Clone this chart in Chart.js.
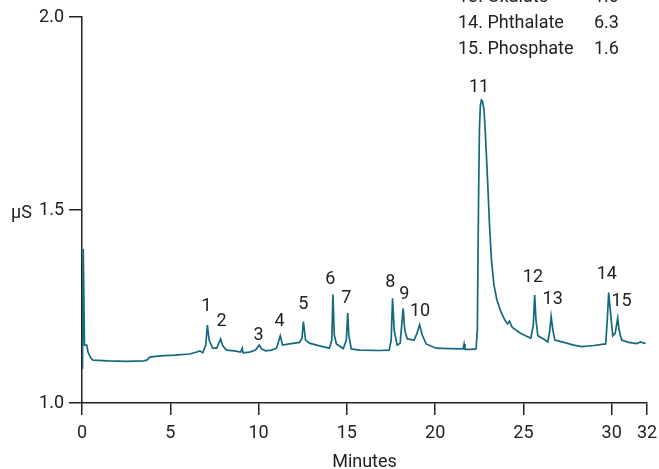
<!DOCTYPE html>
<html>
<head>
<meta charset="utf-8">
<script src="https://cdn.jsdelivr.net/npm/chart.js@4/dist/chart.umd.min.js"></script>
<style>
  html, body { margin: 0; padding: 0; background: #fff; }
  canvas { display: block; }
</style>
</head>
<body>
<canvas id="chromChart" width="659" height="469"></canvas>
<script>
// Chromatogram trace (minutes, µS)
const traceTimes = [
    0.00, 0.03, 0.07, 0.14, 0.27, 0.34, 0.49, 0.62, 1.50, 2.50, 3.50, 3.67, 3.84, 4.41, 5.25, 6.10,
    6.50, 6.67, 6.84, 7.01, 7.10, 7.20, 7.40, 7.63, 7.85, 7.97, 8.19, 8.64, 8.98, 9.08, 9.12, 9.49,
    9.83, 10.04, 10.17, 10.40, 10.73, 11.02, 11.23, 11.36, 11.75, 12.32, 12.46, 12.54, 12.66, 12.88,
    13.45, 14.01, 14.15, 14.21, 14.29, 14.41, 14.80, 14.97, 15.05, 15.11, 15.25, 15.71, 16.84, 17.40,
    17.51, 17.59, 17.68, 17.85, 18.02, 18.19, 18.28, 18.42, 18.81, 18.98, 19.12, 19.27, 19.49, 20.06,
    20.79, 21.58, 21.64, 21.69, 22.03, 22.32, 22.39, 22.46, 22.51, 22.56, 22.62, 22.68, 22.77, 22.85,
    22.97, 23.08, 23.19, 23.33, 23.50, 23.73, 23.95, 24.10, 24.21, 24.35, 24.63, 24.86, 25.42, 25.56, 25.64,
    25.71, 25.82, 26.16, 26.38, 26.50, 26.57, 26.67, 26.78, 27.29, 27.85, 28.31, 28.98, 29.66, 29.75,
    29.83, 29.92, 30.06, 30.20, 30.34, 30.42, 30.56, 30.96, 31.41, 31.64, 31.81, 31.92
];
const traceValues = [
    1.091, 1.132, 1.399, 1.150, 1.150, 1.132, 1.117, 1.111, 1.109, 1.108, 1.109, 1.111, 1.119, 1.122, 1.124, 1.127,
    1.132, 1.135, 1.130, 1.150, 1.202, 1.163, 1.142, 1.142, 1.166, 1.148, 1.137, 1.135, 1.132, 1.142, 1.130, 1.132,
    1.137, 1.150, 1.140, 1.135, 1.137, 1.142, 1.174, 1.150, 1.153, 1.157, 1.168, 1.211, 1.163, 1.155,
    1.148, 1.142, 1.163, 1.281, 1.176, 1.153, 1.141, 1.163, 1.233, 1.176, 1.140, 1.137, 1.136, 1.137,
    1.163, 1.271, 1.189, 1.150, 1.155, 1.245, 1.189, 1.166, 1.163, 1.181, 1.203, 1.176, 1.153, 1.142,
    1.141, 1.140, 1.153, 1.139, 1.139, 1.140, 1.189, 1.528, 1.710, 1.769, 1.785, 1.782, 1.759, 1.694,
    1.578, 1.461, 1.370, 1.306, 1.267, 1.236, 1.215, 1.205, 1.212, 1.197, 1.187, 1.180, 1.168, 1.202, 1.280,
    1.215, 1.174, 1.165, 1.158, 1.189, 1.224, 1.189, 1.163, 1.157, 1.150, 1.146, 1.149, 1.153, 1.215,
    1.286, 1.241, 1.174, 1.181, 1.220, 1.189, 1.163, 1.157, 1.154, 1.158, 1.155, 1.155
];

// Peak numbers and where their labels sit (minutes, µS)
const peakNames = ['1', '2', '3', '4', '5', '6', '7', '8', '9', '10', '11', '12', '13', '14', '15'];
const peakLabelTimes = [7.05, 7.91, 10.00, 11.19, 12.54, 14.07, 14.97, 17.46, 18.25, 19.15, 22.49, 25.54, 26.66, 29.72, 30.56];
const peakLabelLevels = [1.249, 1.212, 1.176, 1.212, 1.254, 1.321, 1.272, 1.313, 1.282, 1.238, 1.817, 1.324, 1.269, 1.332, 1.262];

// Visible part of the analyte table (mg/L)
const legendNames = ['13. Oxalate', '14. Phthalate', '15. Phosphate'];
const legendValues = ['1.0', '6.3', '1.6'];

const xTicks = [0, 5, 10, 15, 20, 25, 30, 32];
const yTicks = [1.0, 1.5, 2.0];

const FONT = 'Roboto, "Liberation Sans", sans-serif';
const INK = '#222';
const TRACE = '#14697f';

const tracePoints = traceTimes.map((t, i) => ({ x: t, y: traceValues[i] }));

// Peak numbers, axis unit and the table in the top right corner
const annotations = {
    id: 'annotations',
    afterDatasetsDraw(chart) {
        const ctx = chart.ctx;
        const xs = chart.scales.x;
        const ys = chart.scales.y;
        ctx.save();
        ctx.fillStyle = INK;
        ctx.textAlign = 'center';
        ctx.textBaseline = 'middle';
        ctx.font = '18px ' + FONT;
        peakNames.forEach((name, i) => {
            ctx.fillText(name, xs.getPixelForValue(peakLabelTimes[i]), ys.getPixelForValue(peakLabelLevels[i]));
        });

        ctx.textAlign = 'left';
        ctx.fillText('µS', 11, ys.getPixelForValue(1.5) + 3);

        legendNames.forEach((name, i) => {
            const y = -3 + i * 26;
            ctx.fillText(name, 458, y);
            ctx.fillText(legendValues[i], 594, y);
        });
        ctx.restore();
    }
};

new Chart(document.getElementById('chromChart').getContext('2d'), {
    type: 'line',
    data: {
        datasets: [{
            data: tracePoints,
            borderColor: TRACE,
            borderWidth: 1.7,
            pointRadius: 0,
            tension: 0,
            fill: false
        }]
    },
    options: {
        responsive: false,
        animation: false,
        devicePixelRatio: 1,
        layout: { padding: { top: 17, right: 12, left: 0, bottom: 0 } },
        plugins: {
            legend: { display: false },
            tooltip: { enabled: false }
        },
        scales: {
            x: {
                type: 'linear',
                min: 0,
                max: 32,
                afterBuildTicks(scale) {
                    scale.ticks = xTicks.map(v => ({ value: v }));
                },
                afterFit(scale) {
                    scale.height = 66;
                    scale.paddingLeft = 0;
                    scale.paddingRight = 0;
                },
                border: { color: INK, width: 1.5 },
                grid: { drawOnChartArea: false, drawTicks: true, tickLength: 12, color: INK, lineWidth: 1.5 },
                ticks: { color: INK, font: { family: FONT, size: 18 }, padding: 8, maxRotation: 0, autoSkip: false },
                title: { display: true, text: 'Minutes', color: INK, font: { family: FONT, size: 18 }, padding: { top: 0, bottom: -4 } }
            },
            y: {
                min: 1,
                max: 2,
                afterBuildTicks(scale) {
                    scale.ticks = yTicks.map(v => ({ value: v }));
                },
                afterFit(scale) {
                    scale.width = 82;
                    scale.paddingTop = 0;
                    scale.paddingBottom = 0;
                },
                border: { color: INK, width: 1.5 },
                grid: { drawOnChartArea: false, drawTicks: true, tickLength: 13, color: INK, lineWidth: 1.5 },
                ticks: {
                    color: INK,
                    font: { family: FONT, size: 18 },
                    padding: 5,
                    callback: v => v.toFixed(1)
                }
            }
        }
    },
    plugins: [annotations]
});
</script>
</body>
</html>
